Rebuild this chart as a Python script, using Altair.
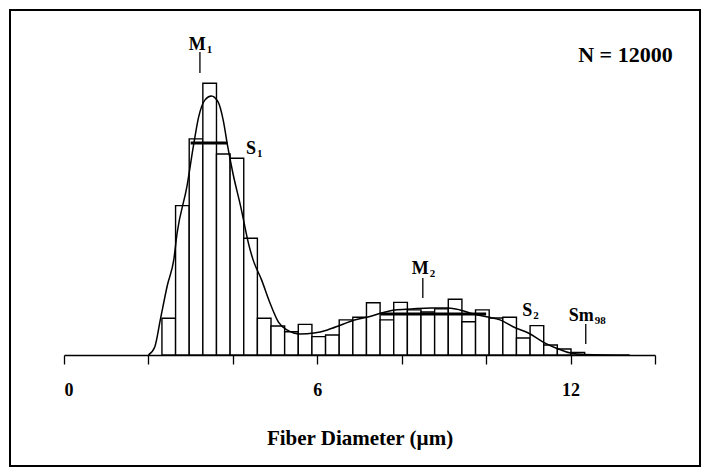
import altair as alt
import pandas as pd

# ---- data ----
bin_start = 2.32
bin_width = 0.323
bin_counts = [224, 911, 1318, 1657, 1226, 1200, 712, 224, 177, 142, 187, 112, 122,
              214, 230, 319, 214, 321, 275, 262, 281, 340, 203, 275, 226, 230,
              104, 179, 61, 37, 15]

curve_x = [2.0, 2.15, 2.29, 2.45, 2.6, 2.68, 2.91, 3.07, 3.19, 3.34, 3.49, 3.65,
           3.77, 3.88, 4.0, 4.19, 4.38, 4.48, 4.68, 4.88, 5.08, 5.28, 5.6, 5.92,
           6.24, 6.56, 6.88, 7.2, 7.52, 7.84, 8.23, 8.69, 9.1, 9.38, 9.69, 10.04,
           10.33, 10.65, 11.0, 11.35, 11.65, 12.0, 12.33, 13.4]
curve_y = [0, 49, 226, 427, 580, 744, 1025, 1281, 1452, 1556, 1580, 1543,
           1434, 1269, 1110, 900, 670, 580, 458, 317, 201, 153, 128, 134,
           153, 183, 214, 232, 256, 275, 281, 287, 287, 275, 250, 232,
           214, 171, 134, 79, 43, 12, 3, 0]

# S (spread) bars
s_x1 = [3.0, 7.5]
s_x2 = [3.87, 10.0]
s_y = [1293, 250]

# marker ticks (M1, M2, Sm98)
tick_x = [3.22, 8.5, 12.36]
tick_y1 = [1720, 348, 67]
tick_y2 = [1848, 470, 189]

# annotations
ann_main = ["M", "S", "M", "S", "Sm"]
ann_sub = ["1", "1", "2", "2", "98"]
ann_x = [3.36, 4.55, 8.64, 11.09, 12.55]
ann_y = [1860, 1226, 494, 238, 207]

n_text = ["N = 12000"]
n_x = [13.3]
n_y = [1787]

x_ticks = [0, 2, 4, 6, 8, 10, 12, 14]

# ---- tables ----
bins = pd.DataFrame({
    "lo": [bin_start + i * bin_width for i in range(len(bin_counts))],
    "hi": [bin_start + (i + 1) * bin_width for i in range(len(bin_counts))],
    "count": bin_counts,
})
curve = pd.DataFrame({"x": curve_x, "y": curve_y})
sdf = pd.DataFrame({"x1": s_x1, "x2": s_x2, "y": s_y})
tdf = pd.DataFrame({"x": tick_x, "y1": tick_y1, "y2": tick_y2})
adf = pd.DataFrame({"x": ann_x, "y": ann_y, "main": ann_main, "sub": ann_sub})
ndf = pd.DataFrame({"x": n_x, "y": n_y, "t": n_text})

FONT = "Liberation Serif"
xs = alt.Scale(domain=[0, 14], nice=False, zero=False)
ys = alt.Scale(domain=[0, 1921], nice=False)

xaxis = alt.Axis(values=x_ticks, labelExpr="datum.value % 6 == 0 ? datum.label : ''",
                 grid=False, domainColor="black", domainWidth=1.5, tickColor="black",
                 tickWidth=1.3, tickSize=9, labelFont=FONT, labelFontWeight="bold",
                 labelFontSize=18, labelColor="black", labelPadding=17,
                 title="Fiber Diameter (µm)", titleFont=FONT, titleFontWeight="bold",
                 titleFontSize=21, titleColor="black", titlePadding=28)

bars = alt.Chart(bins).mark_rect(fill="white", stroke="black", strokeWidth=1.4).encode(
    x=alt.X("lo:Q", scale=xs, axis=xaxis),
    x2="hi:Q",
    y=alt.Y("count:Q", scale=ys, axis=None),
    y2=alt.datum(0),
)

line = alt.Chart(curve).mark_line(color="black", strokeWidth=1.5, interpolate="monotone").encode(
    x=alt.X("x:Q", scale=xs), y=alt.Y("y:Q", scale=ys))

sbars = alt.Chart(sdf).mark_rule(color="black", strokeWidth=3).encode(
    x=alt.X("x1:Q", scale=xs), x2="x2:Q", y=alt.Y("y:Q", scale=ys))

ticks = alt.Chart(tdf).mark_rule(color="black", strokeWidth=1.3).encode(
    x=alt.X("x:Q", scale=xs), y=alt.Y("y1:Q", scale=ys), y2="y2:Q")

main_txt = alt.Chart(adf).mark_text(font=FONT, fontWeight="bold", fontSize=18,
                                    align="right", baseline="alphabetic", color="black").encode(
    x=alt.X("x:Q", scale=xs), y=alt.Y("y:Q", scale=ys), text="main:N")
sub_txt = alt.Chart(adf).mark_text(font=FONT, fontWeight="bold", fontSize=11,
                                   align="left", baseline="alphabetic", dy=3, dx=1,
                                   color="black").encode(
    x=alt.X("x:Q", scale=xs), y=alt.Y("y:Q", scale=ys), text="sub:N")

ntxt = alt.Chart(ndf).mark_text(font=FONT, fontWeight="bold", fontSize=22,
                                align="center", baseline="alphabetic", color="black").encode(
    x=alt.X("x:Q", scale=xs), y=alt.Y("y:Q", scale=ys), text="t:N")

border = alt.Chart(ndf).mark_rect(fill=None, stroke="black", strokeWidth=2, clip=False).encode(
    x=alt.value(-54), x2=alt.value(636), y=alt.value(-30), y2=alt.value(426))

chart = alt.layer(bars, line, sbars, ticks, main_txt, sub_txt, ntxt, border).properties(
    width=591, height=315,
    autosize=alt.AutoSizeParams(type="none"),
    padding={"left": 64, "top": 40, "right": 56, "bottom": 120},
    background="white",
).configure_view(stroke=None)

chart.save("out.html", embed_options={"renderer": "svg", "actions": False})
